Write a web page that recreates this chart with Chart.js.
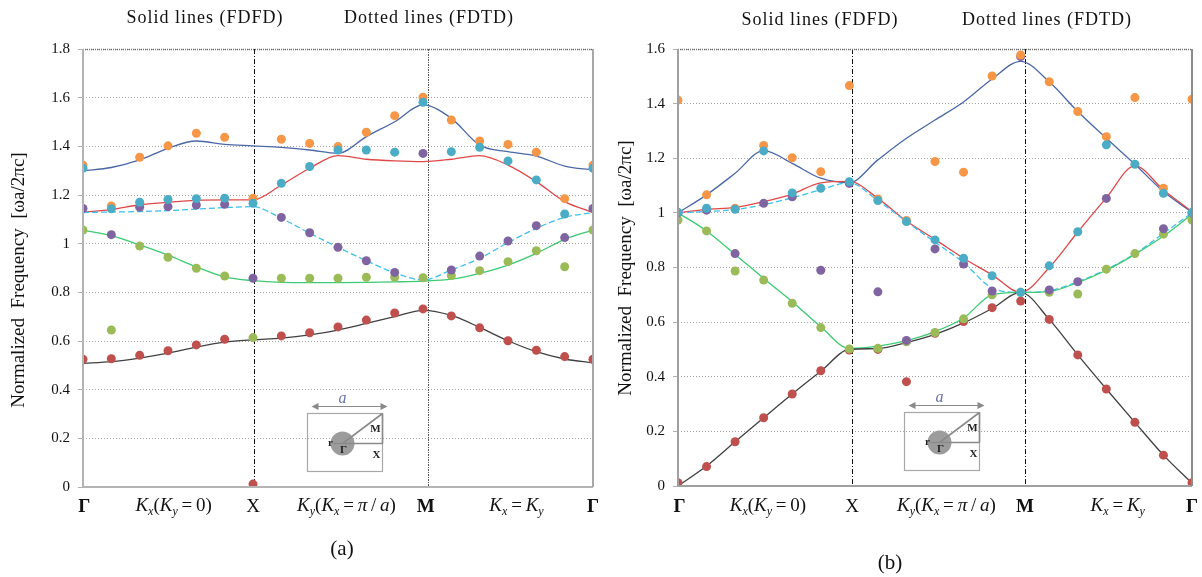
<!DOCTYPE html>
<html>
<head>
<meta charset="utf-8">
<script src="https://cdn.jsdelivr.net/npm/chart.js@4.4.0/dist/chart.umd.min.js"></script>
<style>
  html, body { margin: 0; padding: 0; background: #fff; }
  #wrap { position: relative; width: 1202px; height: 577px; overflow: hidden; }
  canvas { position: absolute; top: 0; }
  #pa { left: 0; }
  #pb { left: 600px; }
</style>
</head>
<body>
<div id="wrap">
  <canvas id="pa" width="600" height="577"></canvas>
  <canvas id="pb" width="602" height="577"></canvas>
</div>
<script>
// wave-vector steps along Γ-X-M-Γ
const kPoints = [0, 1, 2, 3, 4, 5, 6, 7, 8, 9, 10, 11, 12, 13, 14, 15, 16, 17, 18];
const symLabels = ['Γ', 'X', 'M', 'Γ'];
const symBold = [true, false, true, true];

// ---- panel (a) ----
const aSymPos = [0.05, 6, 12.1, 18];
const aPathPos = [3.2, 9.3, 15.3];
const aYTicksMax = 1.8;
// FDTD (dots)
const aRed    = [0.525, 0.527, 0.541, 0.560, 0.584, 0.607, 0.012, 0.621, 0.634, 0.658, 0.686, 0.715, 0.732, 0.703, 0.654, 0.601, 0.562, 0.536, 0.525];
const aGreen  = [1.056, 0.645, 0.990, 0.944, 0.899, 0.867, 0.614, 0.858, 0.858, 0.858, 0.862, 0.862, 0.860, 0.869, 0.889, 0.926, 0.971, 0.905, 1.056];
const aPurple = [1.145, 1.037, 1.150, 1.152, 1.159, 1.162, 0.858, 1.108, 1.045, 0.985, 0.930, 0.882, 1.371, 0.892, 0.949, 1.011, 1.074, 1.025, 1.145];
const aCyan   = [1.310, 1.143, 1.170, 1.182, 1.185, 1.187, 1.166, 1.248, 1.317, 1.385, 1.385, 1.376, 1.581, 1.378, 1.396, 1.340, 1.262, 1.122, 1.310];
const aOrange = [1.323, 1.155, 1.355, 1.402, 1.454, 1.437, 1.187, 1.429, 1.412, 1.399, 1.458, 1.526, 1.602, 1.508, 1.422, 1.408, 1.376, 1.185, 1.323];
// FDFD (lines)
const aBand1 = [0.508, 0.515, 0.530, 0.550, 0.575, 0.595, 0.605, 0.612, 0.625, 0.645, 0.672, 0.700, 0.726, 0.705, 0.656, 0.601, 0.556, 0.526, 0.510];
const aBand2 = [1.056, 1.033, 0.995, 0.953, 0.905, 0.864, 0.848, 0.841, 0.840, 0.840, 0.841, 0.843, 0.846, 0.854, 0.878, 0.912, 0.960, 1.018, 1.056];
const aBand3 = [1.128, 1.130, 1.132, 1.136, 1.142, 1.148, 1.152, 1.104, 1.043, 0.985, 0.930, 0.880, 0.851, 0.892, 0.940, 1.004, 1.063, 1.108, 1.128];
const aBand4 = [1.130, 1.140, 1.160, 1.170, 1.178, 1.180, 1.180, 1.241, 1.310, 1.362, 1.347, 1.340, 1.337, 1.347, 1.362, 1.323, 1.255, 1.173, 1.128];
const aBand5 = [1.300, 1.313, 1.344, 1.392, 1.422, 1.408, 1.402, 1.396, 1.385, 1.371, 1.440, 1.501, 1.570, 1.515, 1.405, 1.378, 1.360, 1.319, 1.303];

// ---- panel (b) ----
const bSymPos = [0.05, 6.1, 12.15, 18];
const bPathPos = [3.15, 9.4, 15.4];
const bYTicksMax = 1.6;
const bRed    = [0.012, 0.071, 0.162, 0.250, 0.337, 0.422, 0.498, 0.500, 0.382, 0.559, 0.602, 0.653, 0.677, 0.610, 0.480, 0.355, 0.233, 0.113, 0.012];
const bGreen  = [0.974, 0.934, 0.787, 0.754, 0.669, 0.580, 0.502, 0.504, 0.528, 0.562, 0.612, 0.700, 0.709, 0.709, 0.703, 0.794, 0.851, 0.922, 0.974];
const bPurple = [1.000, 1.010, 0.851, 1.035, 1.059, 0.790, 1.108, 0.711, 0.533, 0.868, 0.813, 0.714, 1.572, 0.718, 0.748, 1.053, null, 0.942, 1.000];
const bCyan   = [1.002, 1.017, 1.013, 1.227, 1.073, 1.090, 1.114, 1.045, 0.968, 0.901, 0.834, 0.770, 0.709, 0.806, 0.931, 1.249, 1.178, 1.072, 1.002];
const bOrange = [1.413, 1.066, 1.017, 1.247, 1.202, 1.151, 1.466, 1.051, 0.972, 1.188, 1.149, 1.501, 1.578, 1.480, 1.371, 1.279, 1.422, 1.090, 1.416];
const bBand1 = [0.000, 0.073, 0.162, 0.250, 0.337, 0.420, 0.500, 0.503, 0.525, 0.555, 0.597, 0.650, 0.709, 0.610, 0.480, 0.355, 0.233, 0.113, 0.010];
const bBand2 = [1.000, 0.934, 0.848, 0.760, 0.675, 0.583, 0.504, 0.512, 0.532, 0.565, 0.615, 0.700, 0.709, 0.712, 0.745, 0.790, 0.848, 0.915, 0.995];
const bBand3 = [1.000, 1.005, 1.012, 1.030, 1.055, 1.085, 1.110, 1.045, 0.968, 0.893, 0.818, 0.725, 0.709, 0.715, 0.748, 0.793, 0.850, 0.925, 1.000];
const bBand4 = [1.000, 1.013, 1.020, 1.041, 1.069, 1.110, 1.115, 1.053, 0.970, 0.903, 0.834, 0.773, 0.709, 0.800, 0.930, 1.055, 1.172, 1.084, 1.005];
const bBand5 = [1.000, 1.066, 1.145, 1.228, 1.181, 1.127, 1.111, 1.194, 1.273, 1.340, 1.406, 1.490, 1.555, 1.480, 1.371, 1.273, 1.178, 1.078, 1.002];

const SERIF = "'Liberation Serif', 'Times New Roman', serif";
const dotColors = ['#C0504D', '#9BBB59', '#8064A2', '#4BACC6', '#F79646'];
const lineColors = ['#404040', '#3ccb72', '#3cc0ee', '#e04848', '#4a68a6'];

const pts = arr => kPoints.map((k, i) => ({ x: k, y: arr[i] }));

function lineDs(arr, color, dash) {
  return { type: 'line', data: pts(arr), borderColor: color, borderWidth: 1.3, borderDash: dash || [],
    pointRadius: 0, cubicInterpolationMode: 'monotone', fill: false, order: 10 };
}
function dotDs(arr, color, order) {
  return { type: 'scatter', data: pts(arr), backgroundColor: color, borderWidth: 0,
    pointRadius: 4.5, pointHoverRadius: 4.5, showLine: false, order };
}

// draw text made of runs (italic letters, subscripts)
function drawRuns(ctx, runs, cx, baseY) {
  let total = 0;
  runs.forEach(r => { ctx.font = r.f; r.w = ctx.measureText(r.t).width; total += r.w; });
  let x = cx - total / 2;
  ctx.textAlign = 'left';
  ctx.textBaseline = 'alphabetic';
  runs.forEach(r => { ctx.font = r.f; ctx.fillText(r.t, x, baseY + (r.dy || 0)); x += r.w; });
}
const IT = 'italic 19px ' + SERIF, UP = '19px ' + SERIF, SUB = 'italic 12px ' + SERIF;
const pathRuns = [
  [{ t: 'K', f: IT }, { t: 'x', f: SUB, dy: 4 }, { t: '(', f: UP }, { t: 'K', f: IT }, { t: 'y', f: SUB, dy: 4 }, { t: '\u2009=\u20090)', f: UP }],
  [{ t: 'K', f: IT }, { t: 'y', f: SUB, dy: 4 }, { t: '(', f: UP }, { t: 'K', f: IT }, { t: 'x', f: SUB, dy: 4 }, { t: '\u2009=\u2009', f: UP }, { t: 'π', f: IT }, { t: '\u2009/\u2009', f: UP }, { t: 'a', f: IT }, { t: ')', f: UP }],
  [{ t: 'K', f: IT }, { t: 'x', f: SUB, dy: 4 }, { t: '\u2009=\u2009', f: UP }, { t: 'K', f: IT }, { t: 'y', f: SUB, dy: 4 }]
];

function arrowHead(ctx, x, y, dir) {
  ctx.beginPath();
  ctx.moveTo(x, y);
  ctx.lineTo(x - dir * 7, y - 3.5);
  ctx.lineTo(x - dir * 7, y + 3.5);
  ctx.closePath();
  ctx.fill();
}

function drawInset(ctx, bx, by) {
  const w = 75, h = 58, cx = bx + 35, cy = by + 30;
  ctx.save();
  ctx.strokeStyle = '#a8a8a8'; ctx.lineWidth = 1.2;
  ctx.strokeRect(bx, by, w, h);
  ctx.fillStyle = '#9c9c9c';
  ctx.beginPath(); ctx.arc(cx, cy, 12, 0, Math.PI * 2); ctx.fill();
  ctx.strokeStyle = '#8a8a8a'; ctx.lineWidth = 1.6;
  ctx.beginPath();
  ctx.moveTo(cx, cy); ctx.lineTo(bx + w, by);
  ctx.moveTo(cx, cy); ctx.lineTo(bx + w, cy);
  ctx.moveTo(bx + w, by); ctx.lineTo(bx + w, cy);
  ctx.stroke();
  // lattice constant arrow
  ctx.strokeStyle = '#8a8a8a'; ctx.fillStyle = '#8a8a8a'; ctx.lineWidth = 1.2;
  ctx.beginPath(); ctx.moveTo(bx + 6, by - 7); ctx.lineTo(bx + 78, by - 7); ctx.stroke();
  arrowHead(ctx, bx + 4, by - 7, -1);
  arrowHead(ctx, bx + 80, by - 7, 1);
  // radius arrow
  ctx.beginPath(); ctx.moveTo(cx, cy); ctx.lineTo(cx - 9, cy); ctx.stroke();
  ctx.fillStyle = '#222';
  ctx.textAlign = 'center'; ctx.textBaseline = 'middle';
  ctx.font = 'bold 11px ' + SERIF;
  ctx.fillText('M', bx + 68, by + 16);
  ctx.fillText('X', bx + 69, by + 42);
  ctx.fillText('Γ', cx + 1, cy + 7);
  ctx.fillText('r', cx - 12, cy);
  ctx.font = 'italic 16px ' + SERIF;
  ctx.fillStyle = '#6a72a8';
  ctx.fillText('a', cx, by - 15);
  ctx.restore();
}

function makePanel(id, cfg) {
  const decor = {
    id: 'decor' + id,
    beforeDatasetsDraw(chart) {
      const { ctx, chartArea: ca, scales: { x } } = chart;
      ctx.save();
      ctx.lineWidth = 1;
      // symmetry-point guide lines
      cfg.guides.forEach(g => {
        const px = Math.round(x.getPixelForValue(g.v)) + 0.5;
        ctx.strokeStyle = g.color;
        ctx.setLineDash(g.dash);
        ctx.beginPath(); ctx.moveTo(px, ca.top); ctx.lineTo(px, ca.bottom); ctx.stroke();
      });
      ctx.restore();
    },
    afterDraw(chart) {
      const { ctx, chartArea: ca, scales: { x, y } } = chart;
      ctx.save();
      // frame
      ctx.setLineDash([1, 1]);
      ctx.strokeStyle = '#707070'; ctx.lineWidth = 1.3;
      ctx.beginPath(); ctx.moveTo(ca.left, ca.top + 0.5); ctx.lineTo(ca.right, ca.top + 0.5); ctx.stroke();
      ctx.setLineDash([]);
      ctx.strokeStyle = cfg.axisColor; ctx.lineWidth = 2;
      ctx.beginPath();
      ctx.moveTo(ca.left, ca.top); ctx.lineTo(ca.left, ca.bottom); ctx.lineTo(ca.right, ca.bottom);
      ctx.stroke();
      ctx.strokeStyle = cfg.rightColor;
      ctx.beginPath(); ctx.moveTo(ca.right, ca.top); ctx.lineTo(ca.right, ca.bottom); ctx.stroke();

      ctx.fillStyle = '#111';
      // symmetry labels
      ctx.textAlign = 'center'; ctx.textBaseline = 'alphabetic';
      cfg.symPos.forEach((v, i) => {
        ctx.font = (symBold[i] ? 'bold ' : '') + '19px ' + SERIF;
        ctx.fillText(symLabels[i], x.getPixelForValue(v), cfg.labelBase);
      });
      cfg.pathPos.forEach((v, i) => drawRuns(ctx, pathRuns[i], x.getPixelForValue(v), cfg.labelBase - 1));

      // headers
      ctx.textAlign = 'center'; ctx.textBaseline = 'middle';
      ctx.font = '18px ' + SERIF;
      if ('letterSpacing' in ctx) ctx.letterSpacing = '1px';
      ctx.fillText('Solid lines (FDFD)', cfg.head[0], cfg.headY);
      ctx.fillText('Dotted lines (FDTD)', cfg.head[1], cfg.headY);
      if ('letterSpacing' in ctx) ctx.letterSpacing = '0px';

      // caption
      ctx.font = '21px ' + SERIF;
      ctx.fillText(cfg.caption, cfg.capPos[0], cfg.capPos[1]);

      // y title
      ctx.save();
      ctx.translate(cfg.yTitle[0], cfg.yTitle[1]);
      ctx.rotate(-Math.PI / 2);
      ctx.font = '19px ' + SERIF;
      ctx.fillText('Normalized  Frequency  [ωa/2πc]', 0, 0);
      ctx.restore();

      // unit cell inset
      drawInset(ctx, Math.round(x.getPixelForValue(cfg.inset[0])) + 0.5, Math.round(y.getPixelForValue(cfg.inset[1])) + 0.5);
      ctx.restore();
    }
  };

  const d = cfg.dots, l = cfg.lines;
  return new Chart(document.getElementById(id), {
    data: {
      datasets: [
        lineDs(l[0], lineColors[0]),
        lineDs(l[1], lineColors[1]),
        lineDs(l[2], lineColors[2], [6, 3]),
        lineDs(l[3], lineColors[3]),
        lineDs(l[4], lineColors[4]),
        dotDs(d[0], dotColors[0], 5),
        dotDs(d[1], dotColors[1], 4),
        dotDs(d[2], dotColors[2], 3),
        dotDs(d[4], dotColors[4], 2),
        dotDs(d[3], dotColors[3], 1)
      ]
    },
    options: {
      responsive: false,
      animation: false,
      events: [],
      layout: { padding: cfg.padding },
      plugins: { legend: { display: false }, tooltip: { enabled: false } },
      scales: {
        x: { type: 'linear', min: 0, max: 18, display: false },
        y: {
          min: 0, max: cfg.yMax,
          afterFit: s => { s.width = cfg.yWidth; },
          ticks: {
            stepSize: 0.2, color: '#111', padding: 8, font: { family: SERIF, size: 15 },
            callback: v => String(Number(v.toFixed(1)))
          },
          grid: { color: '#a4a4a4', lineWidth: 1, tickLength: 5, tickColor: '#b0b0b0' },
          border: { display: false, dash: [1, 2] }
        }
      }
    },
    plugins: [decor]
  });
}

makePanel('pa', {
  yMax: aYTicksMax, yWidth: 83,
  padding: { left: 0, right: 7, top: 49, bottom: 90 },
  dots: [aRed, aGreen, aPurple, aCyan, aOrange],
  lines: [aBand1, aBand2, aBand3, aBand4, aBand5],
  guides: [{ v: 6.03, color: '#111', dash: [5, 2, 1, 2] }, { v: 12.17, color: '#555', dash: [2, 1, 1, 1] }],
  symPos: aSymPos, pathPos: aPathPos, labelBase: 512,
  head: [205, 429], headY: 18,
  caption: '(a)', capPos: [342, 549],
  yTitle: [19, 280],
  inset: [7.92, 0.304],
  axisColor: '#b4b4b4', rightColor: '#a8a8a8'
});

makePanel('pb', {
  yMax: bYTicksMax, yWidth: 78,
  padding: { left: 0, right: 10, top: 49, bottom: 91 },
  dots: [bRed, bGreen, bPurple, bCyan, bOrange],
  lines: [bBand1, bBand2, bBand3, bBand4, bBand5],
  guides: [{ v: 6.1, color: '#111', dash: [5, 2, 1, 2] }, { v: 12.15, color: '#111', dash: [5, 2, 1, 2] }],
  symPos: bSymPos, pathPos: bPathPos, labelBase: 512,
  head: [220, 447], headY: 20,
  caption: '(b)', capPos: [290, 563],
  yTitle: [26, 268],
  inset: [7.91, 0.271],
  axisColor: '#a0a0a0', rightColor: '#8c8c8c'
});
</script>
</body>
</html>
